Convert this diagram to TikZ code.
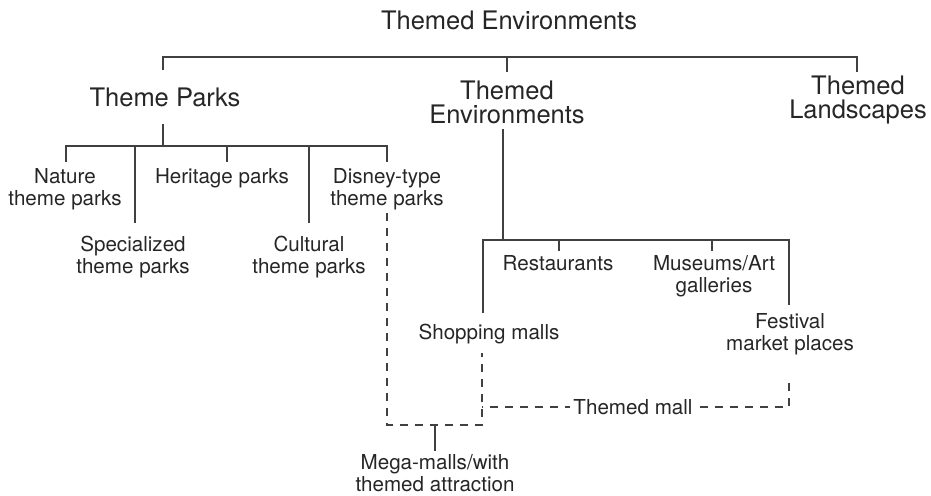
\documentclass[tikz,border=0pt]{standalone}
\usepackage{fontspec}
\setmainfont{TeX Gyre Heros}
\begin{document}
\begin{tikzpicture}[x=1pt,y=-1pt,
  ink/.style={draw=black!75, line width=1.7pt},
  dashline/.style={ink, dash pattern=on 8pt off 7pt},
  head/.style={inner sep=0pt, align=center, text=black!85,
    font=\fontsize{25.5}{24}\selectfont},
  leaf/.style={inner sep=0pt, align=center, text=black!85,
    font=\fontsize{20.6}{22.5}\selectfont}]
\useasboundingbox (0,0) rectangle (931,495);

% headings
\node[head] (root) at (509,20) {Themed Environments};
\node[head] (tp) at (165,97) {Theme Parks};
\node[head] (te) at (507,102) {Themed\\Environments};
\node[head] (tl) at (858,100) {Themed\\Landscapes};

% theme park types
\node[leaf] (nat) at (65,189) {Nature\\theme parks};
\node[leaf] (her) at (222,178) {Heritage parks};
\node[leaf] (dis) at (387,189) {Disney-type\\theme parks};
\node[leaf] (spe) at (133,257) {Specialized\\theme parks};
\node[leaf] (cul) at (309,257) {Cultural\\theme parks};

% themed environment types
\node[leaf] (res) at (558,263) {Restaurants};
\node[leaf] (mus) at (714,276) {Museums/Art\\galleries};
\node[leaf] (sho) at (489,334) {Shopping malls};
\node[leaf] (fes) at (790,334) {Festival\\market places};
\node[leaf] (meg) at (435,473) {Mega-malls/with\\themed attraction};

% top bracket
\coordinate (b1) at (163,57);
\coordinate (b2) at (857,57);
\draw[ink] (163,70) -- (b1) -- (b2) -- (857,72);
\draw[ink] (507,57) -- (507,72);

% theme parks bracket
\coordinate (tpbar) at (163,146);
\draw[ink] (163,124) -- (tpbar);
\draw[ink] (66,162) -- (66,146) -- (387,146) -- (387,162);
\draw[ink] (135,146) -- (135,223);
\draw[ink] (227,146) -- (227,162);
\draw[ink] (309,146) -- (309,223);

% themed environments bracket
\coordinate (tebar) at (503,240);
\draw[ink] (503,129) -- (tebar);
\draw[ink] (483,313) -- (483,240) -- (789,240) -- (789,305);
\draw[ink] (559,240) -- (559,251);
\draw[ink] (712,240) -- (712,251);

% combined malls
\coordinate (mj) at (435,425);
\coordinate (ml) at (482,407);
\coordinate (mr) at (789,407);
\draw[dashline] (387,213) -- (387,425) -- (482,425) -- (482,353);
\draw[ink] (mj) -- (435,451);
\draw[dashline] (789,383) -- (mr) -- (ml);
\node[leaf, fill=white, inner xsep=3pt, inner ysep=2pt] (tm) at (633,407) {Themed mall};
\end{tikzpicture}
\end{document}
